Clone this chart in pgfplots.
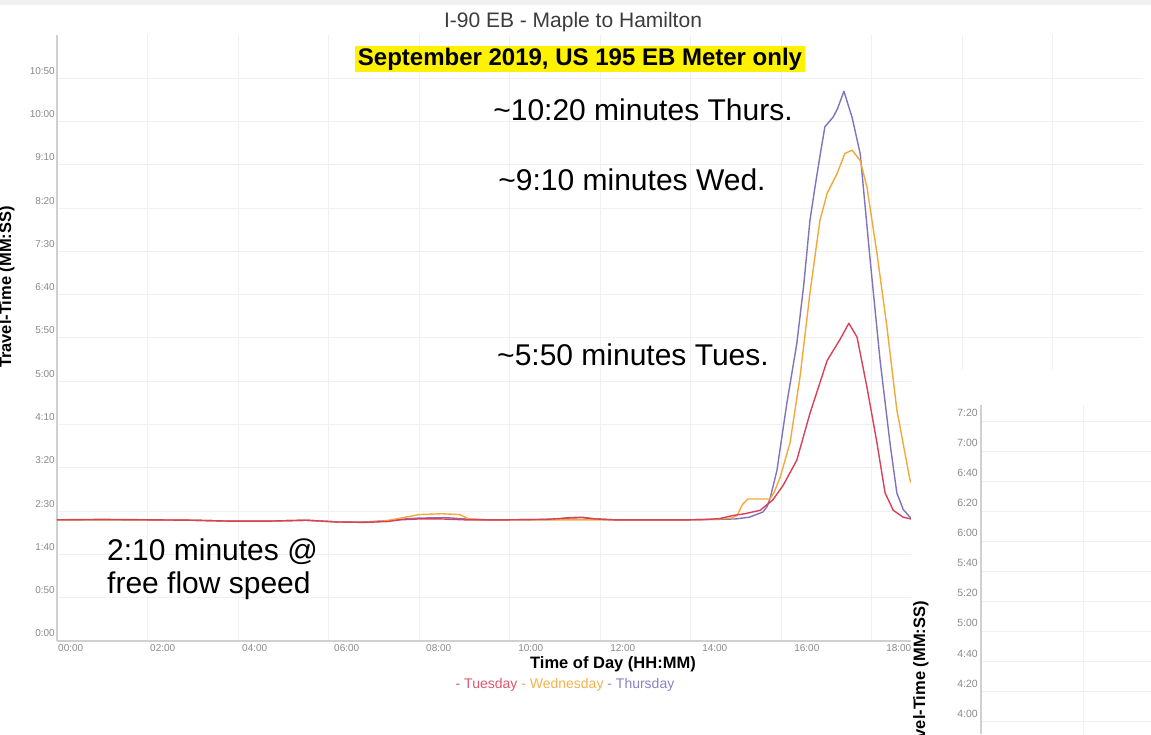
\documentclass[border=0pt]{standalone}
\usepackage{pgfplots}
\pgfplotsset{compat=1.18}
\usepackage{fontspec}
\setmainfont{Liberation Sans}
\definecolor{tue}{HTML}{D9405A}
\definecolor{wed}{HTML}{F5A83A}
\definecolor{thu}{HTML}{8272BD}
\definecolor{tuel}{HTML}{E0566C}
\definecolor{wedl}{HTML}{F3B24E}
\definecolor{thul}{HTML}{8D80C4}
\definecolor{tickc}{HTML}{8A8A8A}
\definecolor{axline}{HTML}{D0D0D0}
\definecolor{gridc}{HTML}{F0F0F0}
\definecolor{titlec}{HTML}{3C3C3C}

\begin{document}
\begin{tikzpicture}[x=1pt,y=1pt]
\path[use as bounding box] (0,0) rectangle (1151,734);
\clip (0,0) rectangle (1151,734);
\fill[white] (0,0) rectangle (1151,734);
\fill[gray!12] (0,729) rectangle (1151,734);

\begin{axis}[
  at={(57pt,93pt)}, anchor=south west,
  scale only axis, width=1086pt, height=606pt,
  xmin=0, xmax=24, ymin=0, ymax=700,
  axis x line=bottom, axis y line=left,
  axis line style={draw=axline, line width=1.8pt, -},
  xtick={0,2.033,4.067,6.1,8.133,10.167,12.2,14.233,16.267,18.3},
  xticklabels={00:00,02:00,04:00,06:00,08:00,10:00,12:00,14:00,16:00,18:00},
  minor xtick={0,2,...,22},
  xminorgrids=true, xmajorgrids=false,
  ytick={0,50,...,650},
  yticklabels={0:00,0:50,1:40,2:30,3:20,4:10,5:00,5:50,6:40,7:30,8:20,9:10,10:00,10:50},
  ymajorgrids=true,
  grid style={draw=gridc, line width=1pt},
  minor grid style={draw=gridc, line width=1pt},
  major tick length=0pt, minor tick length=0pt,
  ticklabel style={font=\fontsize{10}{12}\selectfont, text=tickc, inner sep=1pt},
  xticklabel style={anchor=north west, yshift=-2pt},
  yticklabel style={anchor=east, yshift=7.5pt, xshift=-1pt},
  clip=true,
]
\addplot[thu, line width=1.4pt, line join=round] coordinates {
(0,140) (1,140) (2,140) (3,139.5) (3.8,138.5) (4.7,138.5) (5.5,139.5) (6.2,137.5) (6.8,137.5) (7.3,139) (7.7,141) (8.0,142) (8.6,142.5) (9.0,141) (9.5,140) (10,140) (11,140.5) (11.3,142.5) (11.6,143) (11.9,141) (12.3,140) (13,140) (14,140) (14.6,140.5) (15,141) (15.3,143) (15.6,149) (15.69,155) (15.76,165) (15.91,197) (16.13,275) (16.35,344) (16.5,410) (16.64,486) (16.75,524) (16.86,560) (16.97,594) (17.15,605) (17.25,615) (17.39,635) (17.57,605) (17.75,563) (17.97,440) (18.19,324) (18.41,228) (18.56,171) (18.7,152) (18.85,143) (18.95,141)
};
\addplot[wed, line width=1.4pt, line join=round] coordinates {
(0,140) (1,140) (2,140) (3,139.5) (3.8,138.5) (4.7,138.5) (5.5,139.5) (6.2,137.5) (6.8,137) (7.3,139) (7.7,143) (8.0,146) (8.5,147) (8.9,146) (9.1,141) (9.5,140) (10,140) (11,140) (12,140) (13,140) (14,140) (14.5,140.5) (14.9,142) (15.03,145) (15.15,158) (15.27,164) (15.76,164) (15.85,172) (15.98,189) (16.2,229) (16.42,305) (16.64,402) (16.86,486) (17.02,517) (17.24,540) (17.41,563) (17.57,567) (17.75,555) (17.9,524) (18.12,448) (18.34,363) (18.56,267) (18.85,186) (18.95,175)
};
\addplot[tue, line width=1.4pt, line join=round] coordinates {
(0,140) (1,140.5) (2,140) (3,139.5) (3.8,138.5) (4.7,138.5) (5.5,139.5) (6.2,137.5) (6.8,137) (7.3,138) (7.6,140) (8,141) (8.5,141) (9,140) (10,140) (10.8,140.5) (11.3,142) (11.6,142.5) (11.9,141) (12.3,140) (13,140) (14,140) (14.4,140.5) (14.65,141.5) (14.94,145) (15.2,147) (15.54,151) (15.82,163) (16.05,180) (16.35,209) (16.64,263) (17.02,324) (17.3,348) (17.5,367) (17.68,351) (17.9,293) (18.12,229) (18.3,171) (18.48,151) (18.7,143) (18.95,140)
};
\end{axis}

% overlapping second chart (bottom right)
\fill[white] (911,0) rectangle (1151,364);
\begin{axis}[
  at={(981pt,0pt)}, anchor=south west,
  scale only axis, width=170pt, height=329pt,
  xmin=0, xmax=170, ymin=232, ymax=451,
  axis y line=left, axis x line*=bottom,
  y axis line style={draw=axline, line width=1.8pt, -},
  x axis line style={draw=none},
  xtick={102}, xticklabels={},
  xmajorgrids=true,
  ytick={240,260,...,440},
  yticklabels={4:00,4:20,4:40,5:00,5:20,5:40,6:00,6:20,6:40,7:00,7:20},
  ymajorgrids=true,
  grid style={draw=gridc, line width=1pt},
  major tick length=0pt,
  ticklabel style={font=\fontsize{10.5}{12}\selectfont, text=tickc, inner sep=1pt},
  yticklabel style={anchor=east, yshift=8.5pt, xshift=-2pt},
]
\addplot[draw=none, forget plot] coordinates {(0,300)};
\end{axis}

% titles and labels
\node[anchor=base, text=titlec, font=\fontsize{21}{24}\selectfont] at (573,706.5) {I-90 EB - Maple to Hamilton};
\node[anchor=center, fill=yellow, minimum width=450pt, minimum height=26pt, inner sep=0pt, font=\bfseries\fontsize{24}{26}\selectfont] at (580,675) {September 2019, US 195 EB Meter only};
\node[anchor=base, font=\bfseries\fontsize{16.5}{19}\selectfont] at (613,66) {Time of Day (HH:MM)};
\node[anchor=base, font=\fontsize{14}{16}\selectfont] at (565,46) {\textcolor{tuel}{- Tuesday} \textcolor{wedl}{- Wednesday} \textcolor{thul}{- Thursday}};
\node[anchor=base, rotate=90, font=\bfseries\fontsize{16.5}{19}\selectfont] at (11,447) {Travel-Time (MM:SS)};
\node[anchor=base, rotate=90, font=\bfseries\fontsize{16.5}{19}\selectfont] at (925,52) {Travel-Time (MM:SS)};

% annotations
\node[anchor=base, font=\fontsize{30}{33}\selectfont] at (643,613) {\textasciitilde 10:20 minutes Thurs.};
\node[anchor=base, font=\fontsize{30}{33}\selectfont] at (632,543) {\textasciitilde 9:10 minutes Wed.};
\node[anchor=base, font=\fontsize{30}{33}\selectfont] at (633,368) {\textasciitilde 5:50 minutes Tues.};
\node[anchor=base west, inner sep=0pt, font=\fontsize{30}{33}\selectfont] at (107,174) {2:10 minutes @};
\node[anchor=base west, inner sep=0pt, font=\fontsize{30}{33}\selectfont] at (107,141) {free flow speed};
\end{tikzpicture}
\end{document}
